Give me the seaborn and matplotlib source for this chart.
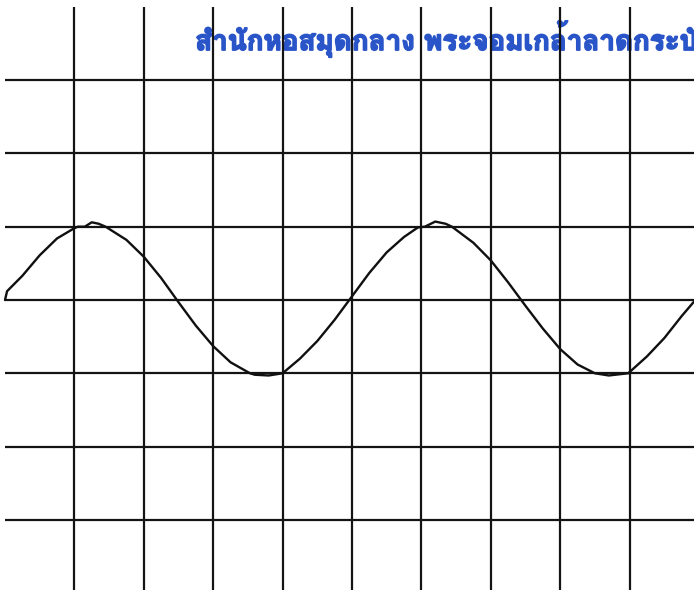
import numpy as np
import pandas as pd
import matplotlib
matplotlib.use("Agg")
import matplotlib.pyplot as plt
import matplotlib.patheffects as pe
from matplotlib import font_manager
from matplotlib.ft2font import FT2Font
import seaborn as sns

# ---- data (grid units) ----
wave_x = [0.0, 0.03, 0.25, 0.5, 0.75, 1.0, 1.05, 1.15, 1.25, 1.35, 1.45, 1.75, 2.0, 2.25,
          2.5, 2.75, 3.0, 3.25, 3.53, 3.6, 3.8, 4.0, 4.25, 4.5, 4.75, 5.0, 5.25, 5.5,
          5.75, 5.95, 6.05, 6.2, 6.35, 6.44, 6.75, 7.0, 7.25, 7.5, 7.75, 8.0, 8.25,
          8.5, 8.7, 8.98, 9.25, 9.5, 9.75, 9.93]
wave_y = [0.0, 0.12, 0.33, 0.61, 0.84, 0.98, 1.0, 1.0, 1.06, 1.04, 1.0, 0.82, 0.59, 0.30,
          -0.03, -0.35, -0.63, -0.85, -1.0, -1.02, -1.03, -1.0, -0.80, -0.56, -0.27, 0.05, 0.37, 0.65,
          0.86, 0.99, 1.0, 1.07, 1.04, 1.0, 0.78, 0.54, 0.24, -0.08, -0.39, -0.67, -0.88,
          -1.0, -1.03, -1.0, -0.77, -0.52, -0.22, -0.02]
stamp_text = "สำนักหอสมุดกลาง พระจอมเกล้าลาดกระบัง"

df = pd.DataFrame({"x": wave_x, "y": wave_y})

sns.set_theme(style="white")

# find an installed font that covers Thai script, prefer bold
thai_fonts = []
for fe in font_manager.fontManager.ttflist:
    try:
        f = FT2Font(fe.fname)
        if f.get_char_index(ord("ส")) and f.get_char_index(ord("ำ")):
            thai_fonts.append(fe)
    except Exception:
        pass
thai_family = None
if thai_fonts:
    bold = [fe for fe in thai_fonts if str(fe.weight) in ("bold", "700", "800", "900")]
    thai_family = (bold or thai_fonts)[0].name
families = ([thai_family] if thai_family else []) + ["DejaVu Sans"]
plt.rcParams["font.family"] = families

fig = plt.figure(figsize=(6.94, 5.95), dpi=100)
ax = fig.add_axes([0, 0, 1, 1])
ax.set_xlim(-0.072, 9.928)
ax.set_ylim(-4.025, 4.093)
ax.axis("off")

grid_kw = dict(color="#141414", lw=1.6, zorder=1)
for gx in np.arange(1, 10):
    ax.vlines(gx, -3.96, 4.0, **grid_kw)
for gy in np.arange(-3, 4):
    ax.hlines(gy, 0.0, 10.5, **grid_kw)

sns.lineplot(data=df, x="x", y="y", ax=ax, color="#101010", lw=1.7,
             estimator=None, sort=False, zorder=2)

ax.text(2.74, 3.41, stamp_text, color="#2a55c8", fontsize=20, fontweight="bold",
        ha="left", va="baseline", zorder=0.5,
        path_effects=[pe.withStroke(linewidth=1.2, foreground="#2a55c8")])

fig.savefig("out.png", dpi=100)
